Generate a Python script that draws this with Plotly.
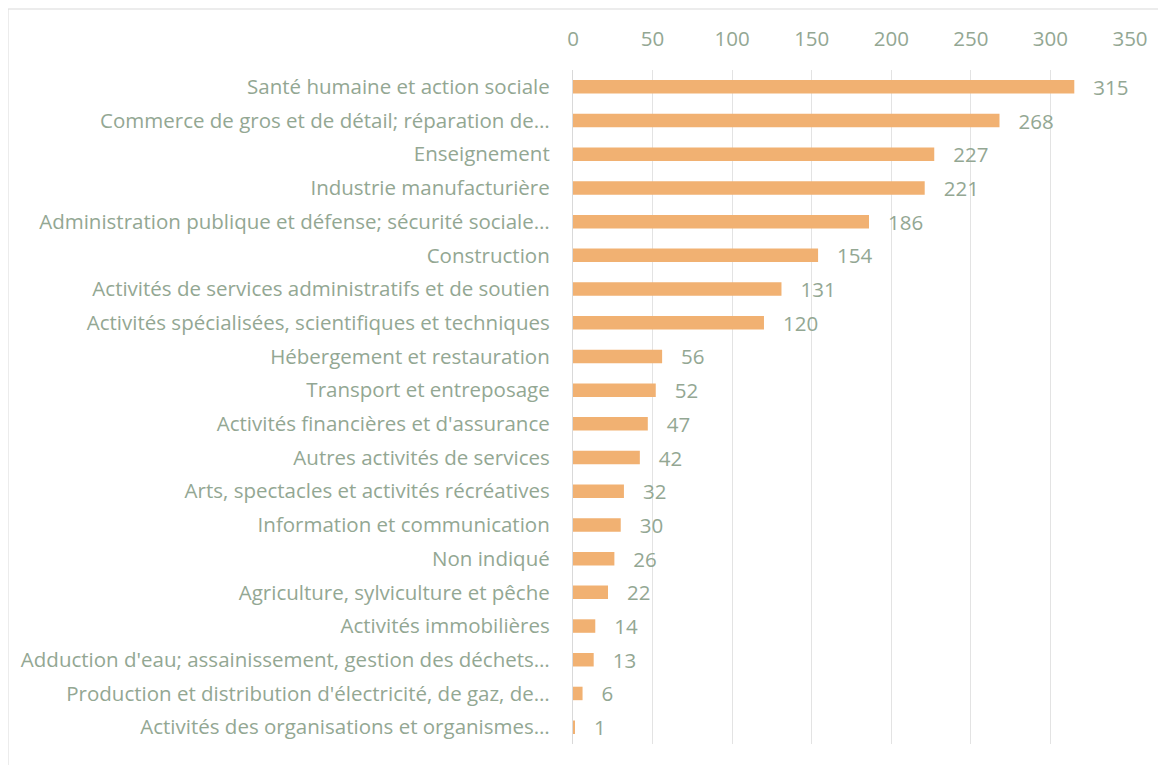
import plotly.graph_objects as go

categories = [
    "Santé humaine et action sociale",
    "Commerce de gros et de détail; réparation de…",
    "Enseignement",
    "Industrie manufacturière",
    "Administration publique et défense; sécurité sociale…",
    "Construction",
    "Activités de services administratifs et de soutien",
    "Activités spécialisées, scientifiques et techniques",
    "Hébergement et restauration",
    "Transport et entreposage",
    "Activités financières et d'assurance",
    "Autres activités de services",
    "Arts, spectacles et activités récréatives",
    "Information et communication",
    "Non indiqué",
    "Agriculture, sylviculture et pêche",
    "Activités immobilières",
    "Adduction d'eau; assainissement, gestion des déchets…",
    "Production et distribution d'électricité, de gaz, de…",
    "Activités des organisations et organismes…",
]
values = [315, 268, 227, 221, 186, 154, 131, 120, 56, 52, 47, 42, 32, 30, 26, 22, 14, 13, 6, 1]
tick_vals = [0, 50, 100, 150, 200, 250, 300, 350]

TXT = "#93A793"
BAR = "#F1B172"
FONT = "Open Sans"
FS = 20.5

fig = go.Figure(go.Bar(
    x=values, y=categories, orientation="h",
    marker=dict(color=BAR, line=dict(width=0)),
    width=0.4,
    text=values, texttemplate="   %{x}", textposition="outside",
    textfont=dict(color=TXT, size=FS, family=FONT),
    constraintext="none",
    cliponaxis=False,
))

# page has an 8px body margin: work in page coords minus 8
OFF = 8
W, H = 1166 - OFF, 765 - OFF
L, R, T, B = 573 - OFF, 36, 70 - OFF, 21
pw = W - L - R
ph = H - T - B

fig.update_layout(
    width=W, height=H,
    margin=dict(l=L, r=R, t=T, b=B),
    paper_bgcolor="white", plot_bgcolor="white",
    showlegend=False,
    font=dict(family=FONT, color=TXT, size=FS),
)
fig.update_xaxes(
    side="top", range=[0, 350], tickvals=tick_vals,
    showgrid=True, gridcolor="#E3E3E3", gridwidth=1.3,
    zeroline=False, showline=False,
    tickfont=dict(color=TXT, size=FS, family=FONT),
    ticks="", ticklabelstandoff=19,
)
fig.update_yaxes(
    autorange="reversed", showgrid=False, zeroline=False,
    showline=True, linecolor="#D9D9D9", linewidth=1.3,
    tickfont=dict(color=TXT, size=FS, family=FONT),
    ticks="", ticklabelstandoff=18,
)

fig.add_shape(
    type="rect", xref="paper", yref="paper",
    x0=(8 - OFF - L) / pw, x1=(W + 2 - L) / pw,
    y0=(H - B - (H + 2)) / ph, y1=(H - B - (9 - OFF)) / ph,
    line=dict(color="#D9D9D9", width=1), fillcolor="rgba(0,0,0,0)",
    layer="below",
)

fig.write_html("out.html")
